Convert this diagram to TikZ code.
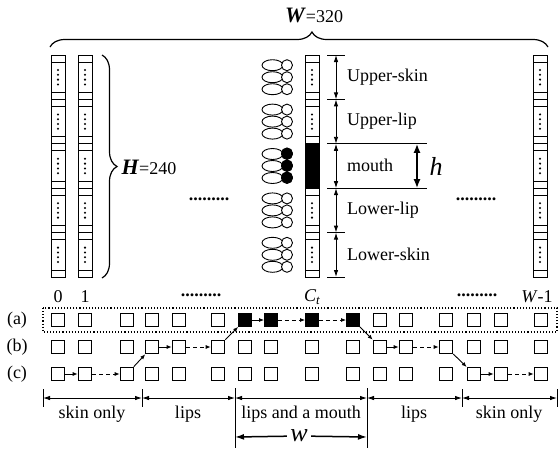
\documentclass[tikz,border=0pt]{standalone}
\usepackage{fontspec}
\setmainfont{Liberation Serif}
\usetikzlibrary{arrows.meta,decorations.pathreplacing}

% colonne de pixels : #1 = abscisse du centre
\newcommand{\pixcol}[1]{%
  \foreach \k in {0,...,4}{%
    \pgfmathsetmacro{\ytop}{55+44.4*\k}
    \draw[cell] (#1-7,\ytop) rectangle (#1+7,\ytop+44.4)
      (#1-7,\ytop+7) -- (#1+7,\ytop+7)
      (#1-7,\ytop+37.4) -- (#1+7,\ytop+37.4);
    \foreach \d in {0,...,3} \fill (#1,\ytop+15+4.8*\d) circle (1.15pt);
  }}

\begin{document}
\begin{tikzpicture}[x=1pt, y=-1pt,
                    font=\fontsize{18}{20}\selectfont,
                    cell/.style={line width=0.9pt},
                    sq/.style={draw, line width=0.8pt, minimum size=13pt, inner sep=0pt},
                    sqb/.style={sq, line width=1.6pt},
                    sqk/.style={sq, fill=black},
                    link/.style={-{Latex[length=5pt,width=4pt]}, line width=0.9pt},
                    dlink/.style={link, dash pattern=on 4pt off 3pt},
                    dim/.style={{Latex[length=7pt,width=4.5pt]}-{Latex[length=7pt,width=4.5pt]}, line width=0.9pt},
                    bigdim/.style={{Latex[length=9pt,width=7pt]}-{Latex[length=9pt,width=7pt]}, line width=1.7pt},
                    bigarrow/.style={-{Latex[length=9pt,width=6pt]}, line width=1.5pt},
                    tick/.style={line width=0.9pt},
                    lbl/.style={anchor=west, inner sep=0pt}
                ]
\useasboundingbox (0,0) rectangle (559,448);

% colonnes de l'image
\pixcol{58}
\pixcol{85}
\pixcol{312}
\pixcol{540}
\fill (305,143.8) rectangle (319,188.2);

% lèvres
\foreach \k in {0,...,4}
  \foreach \j in {-1,0,1}{
    \pgfmathsetmacro{\yy}{77.2+44.4*\k+12*\j}
    \draw[cell, fill=white] (272.5,\yy) ellipse (10.5pt and 5.5pt);
    \draw[cell, fill=white] (287,\yy) circle (5.5pt);
  }
\foreach \j in {-1,0,1} \draw[cell, fill=black] (287,165.4+12*\j) circle (5.5pt);

% accolades
\draw[line width=1.2pt, decorate, decoration={brace, amplitude=15pt, aspect=0.526}] (50,47) -- (548,47);
\node (wtop) at (314,15) {\textbf{\textit{\fontsize{22}{22}\selectfont W}}=320};
\draw[line width=1.2pt, decorate, decoration={brace, amplitude=15pt}] (102,55) -- (102,278);
\node[anchor=west] (hside) at (118,167) {\textbf{\textit{\fontsize{22}{22}\selectfont H}}=240};

% zones de la colonne Ct
\foreach \k in {0,...,5} \coordinate (s\k) at (336,55+44.4*\k);
\foreach \k [evaluate=\k as \n using int(\k+1)] in {0,...,4} \draw[dim] (s\k) -- (s\n);
\foreach \k in {0,1,4,5} \draw[tick] ([xshift=-9pt]s\k) -- ([xshift=9pt]s\k);
\draw[tick] ([xshift=-9pt]s2) -- ([xshift=91pt]s2);
\draw[tick] ([xshift=-9pt]s3) -- ([xshift=91pt]s3);
\coordinate (h1) at (417,143.8);
\coordinate (h2) at (417,188.2);
\draw[bigdim] (h1) -- (h2);
\node (hlab) at (436,166) {\fontsize{26}{26}\selectfont\itshape h};
\node[lbl] (uskin) at (347,77) {Upper-skin};
\node[lbl] (ulip) at (347,121) {Upper-lip};
\node[lbl] (mouth) at (347,165) {mouth};
\node[lbl] (llip) at (347,210) {Lower-lip};
\node[lbl] (lskin) at (347,254) {Lower-skin};

\node (dl) at (209,199) {\textbf{.........}};
\node (dr) at (476,199) {\textbf{.........}};

% indices des colonnes
\node (n0) at (58,297) {0};
\node (n1) at (85,297) {1};
\node (dbl) at (201,295) {\textbf{.........}};
\node (nct) at (312,297) {\textit{C\raisebox{-3pt}{\fontsize{13}{13}\selectfont t}}};
\node (dbr) at (477,295) {\textbf{.........}};
\node (nw) at (537,297) {\textit{W}-1};

% lignes (a), (b), (c)
\node (ra) at (17,320) {(a)};
\node (rb) at (17,347) {(b)};
\node (rc) at (17,374) {(c)};
\draw[dotted, line width=1.1pt] (43,308) rectangle (557,332);
\foreach \x/\sa/\sb/\sc [count=\i] in {58/sq/sq/sqb, 85/sq/sq/sqb, 127/sq/sq/sqb,
        152/sq/sqb/sq, 179/sq/sqb/sq, 218/sq/sqb/sq,
        245/sqk/sq/sq, 271/sqk/sq/sq, 312/sqk/sq/sq, 353/sqk/sq/sq,
        380/sq/sqb/sq, 406/sq/sqb/sq, 446/sq/sqb/sq,
        474/sq/sq/sqb, 501/sq/sq/sqb, 541/sq/sq/sqb}{
  \node[\sa] (a\i) at (\x,320) {};
  \node[\sb] (b\i) at (\x,347) {};
  \node[\sc] (c\i) at (\x,374) {};
}
\draw[link] (c1) -- (c2);
\draw[dlink] (c2) -- (c3);
\draw[link] (c3) -- (b4);
\draw[link] (b4) -- (b5);
\draw[dlink] (b5) -- (b6);
\draw[link] (b6) -- (a7);
\draw[link] (a7) -- (a8);
\draw[dlink] (a8) -- (a9);
\draw[dlink] (a9) -- (a10);
\draw[link] (a10) -- (b11);
\draw[link] (b11) -- (b12);
\draw[dlink] (b12) -- (b13);
\draw[link] (b13) -- (c14);
\draw[link] (c14) -- (c15);
\draw[dlink] (c15) -- (c16);

% segments du bas
\foreach \x [count=\i] in {43,142,235,367,462,557} \coordinate (t\i) at (\x,398);
\foreach \i [evaluate=\i as \n using int(\i+1)] in {1,...,5} \draw[dim] (t\i) -- (t\n);
\foreach \i in {1,2,5,6} \draw[tick] ([yshift=9pt]t\i) -- ([yshift=-9pt]t\i);
\foreach \i in {3,4} \draw[tick] ([yshift=10pt]t\i) -- ([yshift=-50pt]t\i);
\node (g1) at (92,414) {skin only};
\node (g2) at (188,414) {lips};
\node (g3) at (301,414) {lips and a mouth};
\node (g4) at (414,414) {lips};
\node (g5) at (509,414) {skin only};

\coordinate (w1) at (235,437);
\coordinate (w2) at (367,437);
\node (wl) at (299,436) {\fontsize{26}{26}\selectfont\itshape w};
\draw[bigarrow] (wl) -- (w1);
\draw[bigarrow] (wl) -- (w2);

\end{tikzpicture}
\end{document}
